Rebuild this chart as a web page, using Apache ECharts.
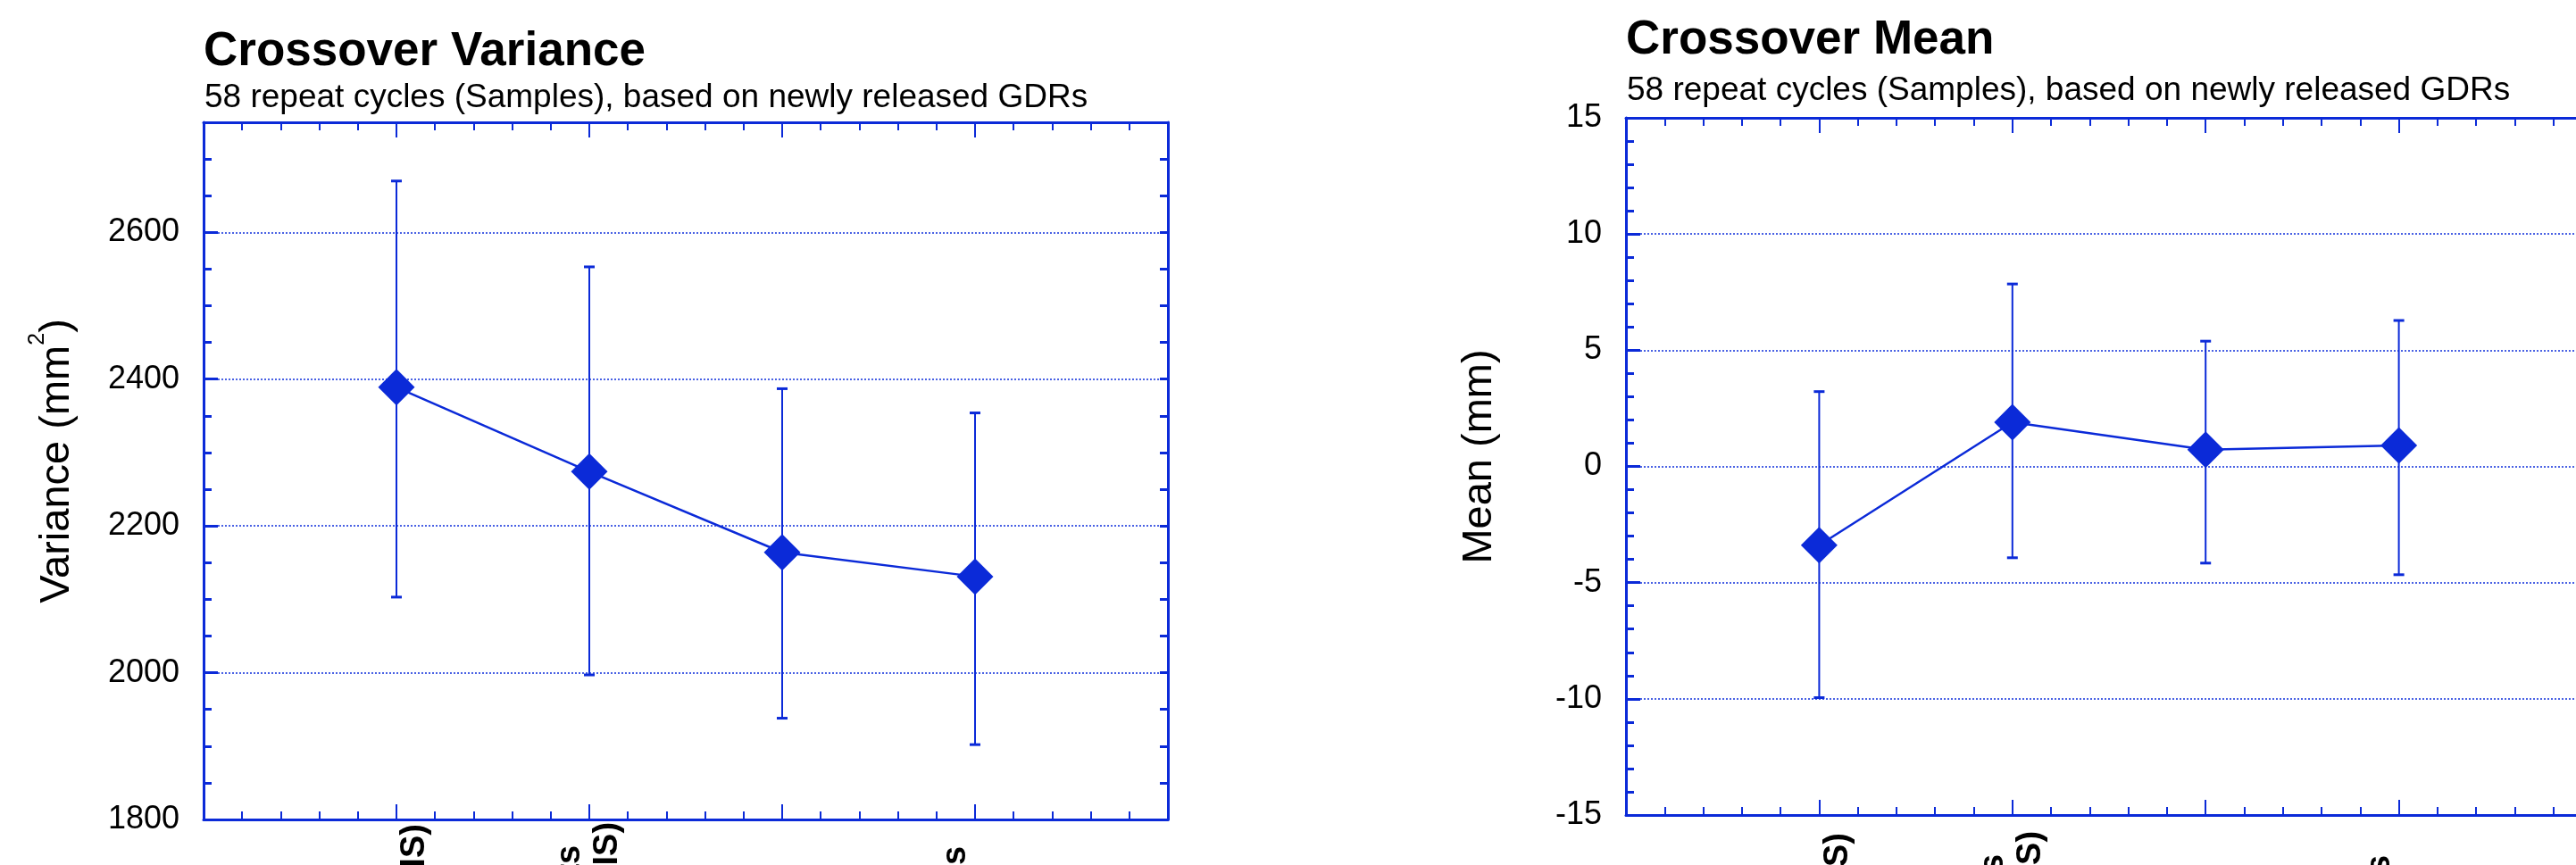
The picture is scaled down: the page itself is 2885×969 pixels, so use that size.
<!DOCTYPE html>
<html>
<head>
<meta charset="utf-8">
<script src="https://cdn.jsdelivr.net/npm/echarts@6/dist/echarts.min.js"></script>
<style>
  html, body { margin: 0; padding: 0; background: #ffffff; }
  #chart { width: 2885px; height: 969px; }
</style>
</head>
<body>
<div id="chart"></div>
<script>
// ---------------- data ----------------
const categories = ['GDR-B\n(SLR+DORIS)', 'GPS orbits\n(GPS+DORIS)', 'GDR-C\n(GPS)', 'New orbits\n(SLR)'];
const xPositions = [1, 2, 3, 4];

const variance     = [2389, 2274, 2164, 2131];
const varianceHigh = [2670, 2553, 2387, 2354];
const varianceLow  = [2103, 1997, 1938, 1902];

const meanVals = [-3.39, 1.90, 0.72, 0.90];
const meanHigh = [3.22, 7.85, 5.39, 6.28];
const meanLow  = [-9.95, -3.93, -4.16, -4.66];

const varianceAxis = [1800, 2750, 200, 50];   // min, max, major step, minor step
const meanAxis     = [-15, 15, 5, 1];

const titles    = ['Crossover Variance', 'Crossover Mean'];
const subtitle  = '58 repeat cycles (Samples), based on newly released GDRs';
const yNames    = ['Variance (mm{sup|2})', 'Mean (mm)'];

// ---------------- style ----------------
const BLUE = '#0b2ad8';
const GRIDC = '#4a62e4';
const FONT = '"Liberation Sans", Arial, Helvetica, sans-serif';

function xAxisCfg(grid, pos, showLabels, margin) {
  return {
    type: 'value', gridIndex: grid, position: pos, min: 0, max: 5, interval: 1,
    axisLine: { show: true, onZero: false, lineStyle: { color: BLUE, width: 3 } },
    axisTick: { show: true, inside: true, length: 17, lineStyle: { color: BLUE, width: 2 } },
    minorTick: { show: true, splitNumber: 5, length: 9, lineStyle: { color: BLUE, width: 2 } },
    splitLine: { show: false },
    axisLabel: showLabels ? {
      show: true, rotate: 90, align: 'center', verticalAlign: 'middle', margin: margin,
      fontFamily: FONT, fontWeight: 'bold', fontSize: 38, lineHeight: 42, color: '#000',
      formatter: function (v) { const i = xPositions.indexOf(v); return i >= 0 ? categories[i] : ''; }
    } : { show: false }
  };
}

function yMajor(grid, ax, name) {
  return {
    type: 'value', gridIndex: grid, position: 'left', min: ax[0], max: ax[1], interval: ax[2],
    axisLine: { show: true, onZero: false, lineStyle: { color: BLUE, width: 3 } },
    axisTick: { show: true, inside: true, length: 16, lineStyle: { color: BLUE, width: 3 } },
    splitLine: { show: true, showMinLine: false, showMaxLine: false,
                 lineStyle: { color: GRIDC, width: 2, type: [2, 2] } },
    axisLabel: {
      show: true, fontFamily: FONT, fontSize: 36, color: '#000', margin: 27,
      padding: [0, 0, 10, 0],
      formatter: function (v) { return (Math.abs(v - ax[0]) % ax[2] === 0) ? String(v) : ''; }
    },
    name: name, nameLocation: 'middle', nameRotate: 90, nameGap: 140,
    nameTextStyle: {
      fontFamily: FONT, fontSize: 47, color: '#000', lineHeight: 47, padding: [0, 0, 0, 22],
      rich: { sup: { fontFamily: FONT, fontSize: 25, lineHeight: 25, padding: [0, 0, 44, 0], color: '#000' } }
    }
  };
}

function yMinor(grid, ax, pos, showLine) {
  return {
    type: 'value', gridIndex: grid, position: pos, min: ax[0], max: ax[1], interval: ax[3],
    axisLine: { show: showLine, onZero: false, lineStyle: { color: BLUE, width: 3 } },
    axisTick: { show: true, inside: true, length: 9, lineStyle: { color: BLUE, width: 3 } },
    splitLine: { show: false },
    axisLabel: { show: false }
  };
}

function lineData(vals) { return vals.map(function (v, i) { return [xPositions[i], v]; }); }
function errData(lo, hi) { return lo.map(function (v, i) { return [xPositions[i], v, hi[i]]; }); }

function errorRender(params, api) {
  const x = api.value(0);
  const pLo = api.coord([x, api.value(1)]);
  const pHi = api.coord([x, api.value(2)]);
  const hw = 6;
  const st = { stroke: BLUE, lineWidth: 2 };
  const cap = { stroke: BLUE, lineWidth: 3 };
  return {
    type: 'group',
    children: [
      { type: 'line', shape: { x1: pLo[0], y1: pLo[1], x2: pHi[0], y2: pHi[1] }, style: st },
      { type: 'line', shape: { x1: pHi[0] - hw, y1: pHi[1], x2: pHi[0] + hw, y2: pHi[1] }, style: cap },
      { type: 'line', shape: { x1: pLo[0] - hw, y1: pLo[1], x2: pLo[0] + hw, y2: pLo[1] }, style: cap }
    ]
  };
}

const chart = echarts.init(document.getElementById('chart'), null, { renderer: 'canvas' });

const option = {
  backgroundColor: '#ffffff',
  animation: false,
  title: [
    { text: titles[0], left: 228, top: 32, padding: 0,
      textStyle: { fontFamily: FONT, fontSize: 53, fontWeight: 'bold', color: '#000' } },
    { text: subtitle, left: 229, top: 91, padding: 0,
      textStyle: { fontFamily: FONT, fontSize: 37, fontWeight: 'normal', color: '#000' } },
    { text: titles[1], left: 1821, top: 19, padding: 0,
      textStyle: { fontFamily: FONT, fontSize: 53, fontWeight: 'bold', color: '#000' } },
    { text: subtitle, left: 1822, top: 83, padding: 0,
      textStyle: { fontFamily: FONT, fontSize: 37, fontWeight: 'normal', color: '#000' } }
  ],
  grid: [
    { left: 228, top: 137, width: 1080, height: 781, containLabel: false, outerBoundsMode: 'none' },
    { left: 1821, top: 132, width: 1082, height: 781, containLabel: false, outerBoundsMode: 'none' }
  ],
  xAxis: [
    xAxisCfg(0, 'bottom', true, 127),
    xAxisCfg(0, 'top', false, 0),
    xAxisCfg(1, 'bottom', true, 142),
    xAxisCfg(1, 'top', false, 0)
  ],
  yAxis: [
    yMajor(0, varianceAxis, yNames[0]),
    yMinor(0, varianceAxis, 'left', false),
    yMinor(0, varianceAxis, 'right', true),
    yMajor(1, meanAxis, yNames[1]),
    yMinor(1, meanAxis, 'left', false),
    yMinor(1, meanAxis, 'right', true)
  ],
  series: [
    { type: 'custom', xAxisIndex: 0, yAxisIndex: 0, data: errData(varianceLow, varianceHigh),
      renderItem: errorRender, encode: { x: 0, y: [1, 2] }, z: 3, silent: true },
    { type: 'line', xAxisIndex: 0, yAxisIndex: 0, data: lineData(variance),
      symbol: 'diamond', symbolSize: 41, showAllSymbol: true,
      lineStyle: { color: BLUE, width: 2.5 }, itemStyle: { color: BLUE }, z: 5 },
    { type: 'custom', xAxisIndex: 2, yAxisIndex: 3, data: errData(meanLow, meanHigh),
      renderItem: errorRender, encode: { x: 0, y: [1, 2] }, z: 3, silent: true },
    { type: 'line', xAxisIndex: 2, yAxisIndex: 3, data: lineData(meanVals),
      symbol: 'diamond', symbolSize: 41, showAllSymbol: true,
      lineStyle: { color: BLUE, width: 2.5 }, itemStyle: { color: BLUE }, z: 5 }
  ]
};

chart.setOption(option);
</script>
</body>
</html>
